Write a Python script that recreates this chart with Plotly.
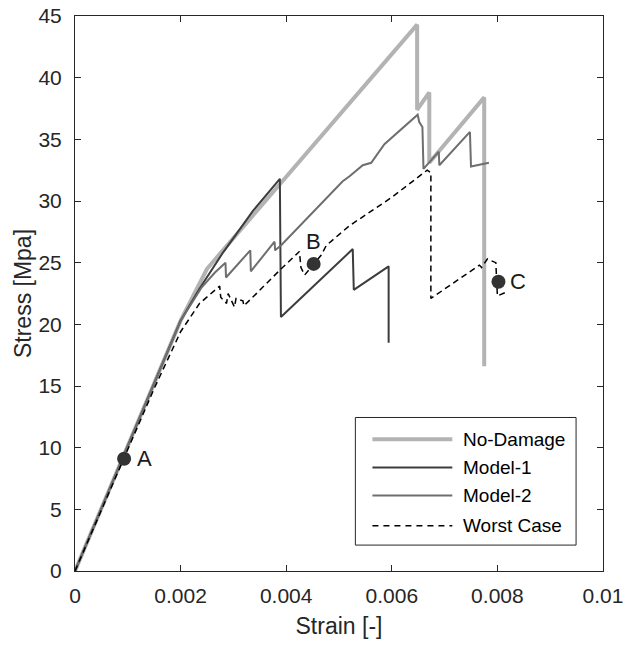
import plotly.graph_objects as go

# ---------------- data ----------------
nd_x = [0, 0.0015, 0.002, 0.0025, 0.00648, 0.00648, 0.00671, 0.00671, 0.00775, 0.00775]
nd_y = [0, 15.2, 20.3, 24.5, 44.3, 37.4, 38.8, 33.1, 38.4, 16.6]

m1_x = [0, 0.0015, 0.002, 0.00236, 0.0028, 0.00337, 0.00388, 0.0039, 0.00526, 0.00528, 0.00594, 0.00594]
m1_y = [0, 15.2, 20.3, 22.9, 25.8, 29.2, 31.8, 20.6, 26.1, 22.8, 24.7, 18.5]

m2_x = [0, 0.0015, 0.002, 0.0024, 0.00265, 0.00285, 0.00286, 0.00332, 0.00333, 0.00378, 0.00379,
        0.0039, 0.00507, 0.0052, 0.00545, 0.00561, 0.00586, 0.00649, 0.00652, 0.00658, 0.0066,
        0.00689, 0.0069, 0.00748, 0.0075, 0.00784]
m2_y = [0, 15.2, 20.3, 23.0, 24.2, 25.0, 23.8, 26.0, 24.3, 26.7, 26.0,
        26.4, 31.6, 32.0, 32.9, 33.1, 34.6, 37.0, 36.4, 36.0, 32.6,
        34.0, 32.9, 35.6, 32.8, 33.1]

wc_x = [0, 0.0015, 0.002, 0.00236, 0.00274, 0.00276, 0.00287, 0.0029, 0.00302, 0.00305, 0.00318,
        0.0032, 0.00346, 0.00388, 0.00425, 0.00428, 0.00435, 0.00466, 0.00476, 0.0052, 0.006,
        0.00667, 0.00674, 0.00674, 0.00766, 0.0077, 0.00781, 0.00797, 0.008, 0.00816]
wc_y = [0, 14.8, 19.4, 21.7, 23.1, 22.2, 21.7, 22.5, 21.4, 22.1, 21.9,
        21.5, 22.6, 24.4, 25.9, 24.6, 24.0, 25.6, 26.4, 28.0, 30.3,
        32.5, 32.3, 22.1, 24.8, 24.6, 25.3, 25.0, 22.3, 22.6]

pt_labels = ["A", "B", "C"]
pt_x = [0.00093, 0.00452, 0.00802]
pt_y = [9.1, 24.9, 23.45]

series_names = ["No-Damage", "Model-1", "Model-2", "Worst Case"]
series_x = [nd_x, m1_x, m2_x, wc_x]
series_y = [nd_y, m1_y, m2_y, wc_y]

x_ticks = [0, 0.002, 0.004, 0.006, 0.008, 0.01]
x_ticktext = ["0", "0.002", "0.004", "0.006", "0.008", "0.01"]
y_ticks = [0, 5, 10, 15, 20, 25, 30, 35, 40, 45]

# ---------------- styles ----------------
colors = ["#b3b3b3", "#3c3c3c", "#6e6e6e", "#000000"]
widths = [4, 2, 2, 1.5]
dashes = ["solid", "solid", "solid", "6px,4px"]
label_shift = [(20, 0), (0, 22), (20, 0)]
FONT = "Liberation Sans, Arial, Helvetica, sans-serif"
AX = "#262626"

fig = go.Figure()
for name, xs, ys, c, w, d in zip(series_names, series_x, series_y, colors, widths, dashes):
    fig.add_trace(go.Scatter(x=xs, y=ys, mode="lines", name=name,
                             line=dict(color=c, width=w, dash=d), showlegend=False))

fig.add_trace(go.Scatter(x=pt_x, y=pt_y, mode="markers",
                         marker=dict(size=14, color="#333333"), showlegend=False))
for lab, px, py, (dx, dy) in zip(pt_labels, pt_x, pt_y, label_shift):
    fig.add_annotation(x=px, y=py, text=lab, showarrow=False, xshift=dx, yshift=dy,
                       xanchor="center", yanchor="middle",
                       font=dict(size=22, color="#1a1a1a", family=FONT))

# ---------------- custom legend (paper coords) ----------------
L, R = 0.531, 0.949
T, B = 0.2766, 0.0467
fig.add_shape(type="rect", xref="paper", yref="paper", x0=L, x1=R, y0=B, y1=T,
              line=dict(color=AX, width=1), fillcolor="white", layer="above")
row_y = [0.2373, 0.1866, 0.1359, 0.0815]
for name, ry, c, w, d in zip(series_names, row_y, colors, widths, dashes):
    fig.add_shape(type="line", xref="paper", yref="paper", x0=0.5633, x1=0.7146, y0=ry, y1=ry,
                  line=dict(color=c, width=w, dash=("6px,5px" if d != "solid" else d)),
                  layer="above")
    fig.add_annotation(xref="paper", yref="paper", x=0.7335, y=ry, text=name, showarrow=False,
                       xanchor="left", yanchor="middle", borderpad=0,
                       font=dict(size=19, color="#000000", family=FONT))

axis_common = dict(showline=True, linecolor=AX, linewidth=1, mirror="ticks", ticks="inside",
                   ticklen=6, tickcolor=AX, showgrid=False, zeroline=False, automargin=False,
                   tickfont=dict(size=21, color=AX, family=FONT))
fig.update_layout(
    width=625, height=645,
    margin=dict(l=75, r=22, t=16, b=74, autoexpand=False),
    paper_bgcolor="white", plot_bgcolor="white",
    font=dict(family=FONT, color=AX),
    xaxis=dict(range=[0, 0.01], tickvals=x_ticks, ticktext=x_ticktext,
               title=dict(text="Strain [-]", font=dict(size=23, color=AX), standoff=11),
               ticklabelstandoff=6,
               **axis_common),
    yaxis=dict(range=[0, 45], tickvals=y_ticks,
               title=dict(text="Stress [Mpa]", font=dict(size=23, color=AX), standoff=0),
               ticklabelstandoff=8,
               **axis_common),
)

fig.write_html("out.html")
